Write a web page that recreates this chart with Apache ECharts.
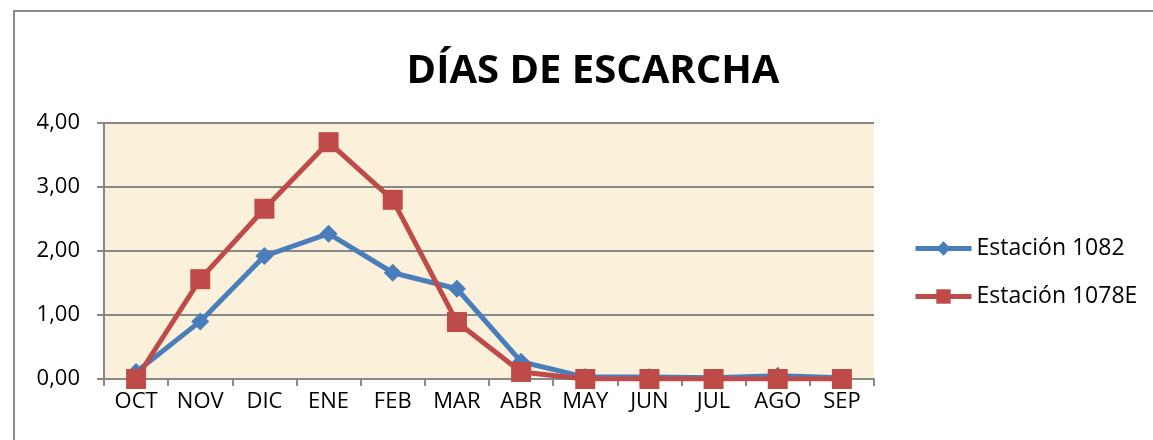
<!DOCTYPE html>
<html>
<head>
    <meta charset="utf-8">
    <title>Días de escarcha</title>
    <style>
        html, body { margin: 0; padding: 0; background: #fff; }
        #chart { width: 1153px; height: 440px; }
    </style>
</head>
<body>
    <div id="chart"></div>
    <script src="https://cdn.jsdelivr.net/npm/echarts@6/dist/echarts.min.js"></script>
    <script>
        // meses (octubre a septiembre)
        var meses = ['OCT', 'NOV', 'DIC', 'ENE', 'FEB', 'MAR', 'ABR', 'MAY', 'JUN', 'JUL', 'AGO', 'SEP'];
        // valores
        var est1082 = [0.11, 0.90, 1.92, 2.27, 1.66, 1.41, 0.27, 0.03, 0.03, 0.02, 0.05, 0.02];
        var est1078E = [0, 1.56, 2.66, 3.70, 2.80, 0.89, 0.11, 0, 0, 0, 0, 0];
        var nombres = ['Estación 1082', 'Estación 1078E'];

        var chart = echarts.init(document.getElementById('chart'));
        var fuente = 'Open Sans';

        var option = {
            animation: false,
            title: {
                text: 'DÍAS DE ESCARCHA',
                left: 588,
                textAlign: 'center',
                top: 47,
                textStyle: { fontFamily: fuente, fontSize: 40, fontWeight: 'bold', color: '#000' }
            },
            graphic: [{
                type: 'rect',
                shape: { x: 14, y: 11, width: 1200, height: 500 },
                style: { fill: 'none', stroke: '#8c8c8c', lineWidth: 2 },
                silent: true
            }],
            legend: {
                orient: 'vertical',
                left: 908,
                top: 232,
                itemGap: 25,
                itemWidth: 56,
                itemHeight: 18,
                lineStyle: { width: 5 },
                textStyle: { fontFamily: fuente, fontSize: 23, color: '#000' },
                data: nombres
            },
            grid: {
                left: 104,
                right: 279,
                top: 123,
                bottom: 61,
                show: true,
                backgroundColor: '#fbf0da',
                borderWidth: 0
            },
            xAxis: {
                type: 'category',
                data: meses,
                boundaryGap: true,
                axisLine: { lineStyle: { color: '#888888', width: 2 } },
                axisTick: { show: true, length: 7, lineStyle: { color: '#888888', width: 2 } },
                axisLabel: { fontFamily: fuente, fontSize: 22, color: '#000', margin: 12 }
            },
            yAxis: {
                type: 'value',
                min: 0,
                max: 4,
                interval: 1,
                axisLine: { show: true, lineStyle: { color: '#888888', width: 2 } },
                axisTick: { show: true, length: 7, lineStyle: { color: '#888888', width: 2 } },
                splitLine: { lineStyle: { color: '#888888', width: 2 } },
                axisLabel: {
                    fontFamily: fuente, fontSize: 22, color: '#000', margin: 24,
                    formatter: function (v) { return v.toFixed(2).replace('.', ','); }
                }
            },
            series: [{
                name: nombres[0],
                type: 'line',
                data: est1082,
                symbol: 'diamond',
                symbolSize: 18,
                z: 2,
                lineStyle: { color: '#4a7ebb', width: 5 },
                itemStyle: { color: '#4a7ebb' }
            }, {
                name: nombres[1],
                type: 'line',
                data: est1078E,
                symbol: 'rect',
                symbolSize: 20,
                z: 3,
                lineStyle: { color: '#be4b48', width: 5 },
                itemStyle: { color: '#be4b48' }
            }]
        };

        chart.setOption(option);
    </script>
</body>
</html>
